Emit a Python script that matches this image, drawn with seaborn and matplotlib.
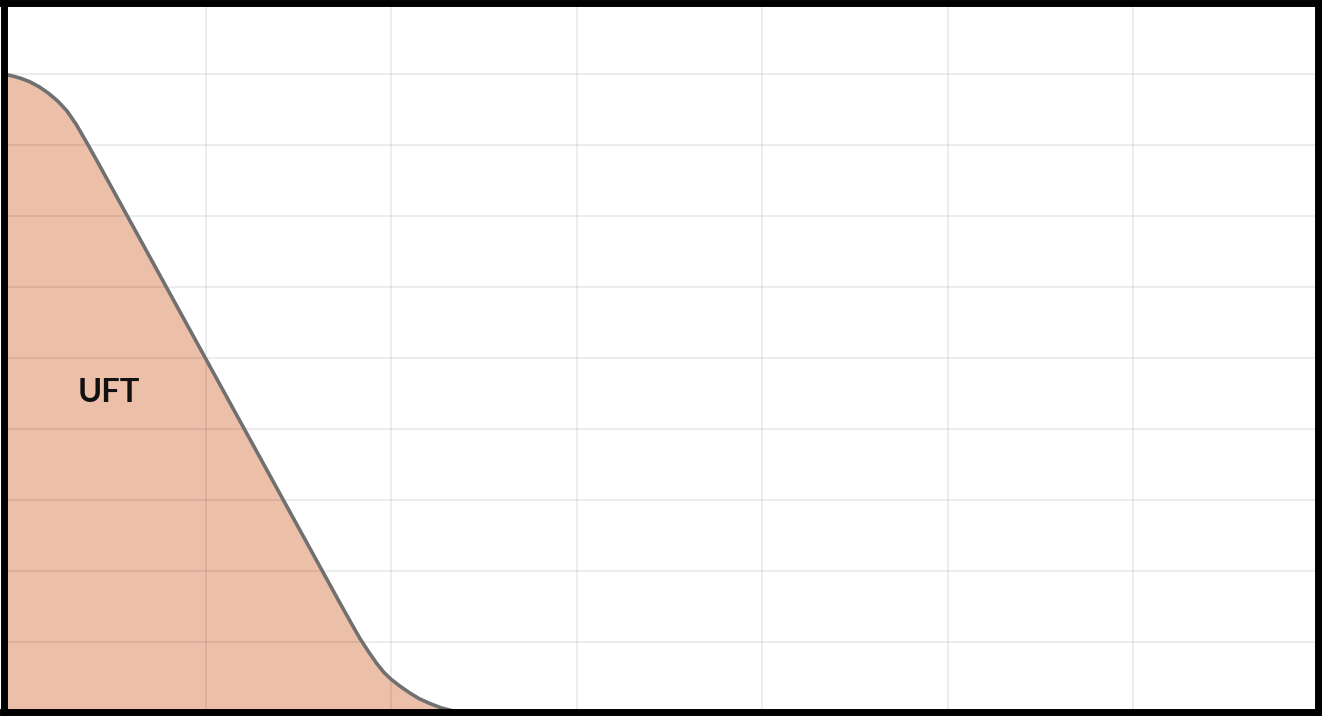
import numpy as np
import pandas as pd
import matplotlib
matplotlib.use("Agg")
import matplotlib.pyplot as plt
import seaborn as sns

# curve
xs = [-0.092, -0.04, 0.0, 0.05, 0.10, 0.15, 0.20, 0.25, 0.30, 0.36, 0.42,
      1.72, 1.78, 1.83, 1.88, 1.92, 1.96, 2.00, 2.05, 2.10, 2.15, 2.21,
      2.27, 2.33, 2.40, 2.46, 6.995]
ys = [9.00, 8.97, 8.94, 8.89, 8.82, 8.73, 8.62, 8.48, 8.29, 8.02, 7.74,
      1.56, 1.28, 1.05, 0.85, 0.70, 0.57, 0.47, 0.37, 0.28, 0.20, 0.13,
      0.07, 0.03, 0.01, 0.0, 0.0]
x_ticks = [1, 2, 3, 4, 5, 6]
y_ticks = [1, 2, 3, 4, 5, 6, 7, 8, 9]
label = "UFT"

df = pd.DataFrame({"x": xs, "y": ys})

sns.set_style("white")
plt.rcParams['font.family'] = ['Lato', 'DejaVu Sans']

fig = plt.figure(figsize=(13.22, 7.21), dpi=100)
ax = fig.add_axes([3.5 / 1322, 9.5 / 721, 1314 / 1322, 708.5 / 721])

ax.fill_between(df.x, df.y, 0, color="#ecbfa9", lw=0, zorder=1)
sns.lineplot(data=df, x="x", y="y", ax=ax, color="#707070", lw=2.6, zorder=3,
             sort=False)

ax.set_xlim(-0.092, 6.995)
ax.set_ylim(0.02, 10.0)
ax.set_xticks(x_ticks)
ax.set_yticks(y_ticks)
ax.grid(True, color="black", alpha=0.08, lw=1.3)
ax.set_axisbelow(False)
ax.tick_params(axis="x", length=5, width=1.3, color="#e6e6e6", labelbottom=False)
ax.tick_params(axis="y", length=0, labelleft=False)
ax.set_xlabel("")
ax.set_ylabel("")

for s in ax.spines.values():
    s.set_visible(True)
    s.set_color("black")
    s.set_linewidth(5)
    s.set_zorder(5)

ax.text(0.477, 4.52, label, fontsize=23.5, fontweight="bold", ha="center",
        va="center", color="#111111", zorder=4)

fig.savefig("out.png", dpi=100)
